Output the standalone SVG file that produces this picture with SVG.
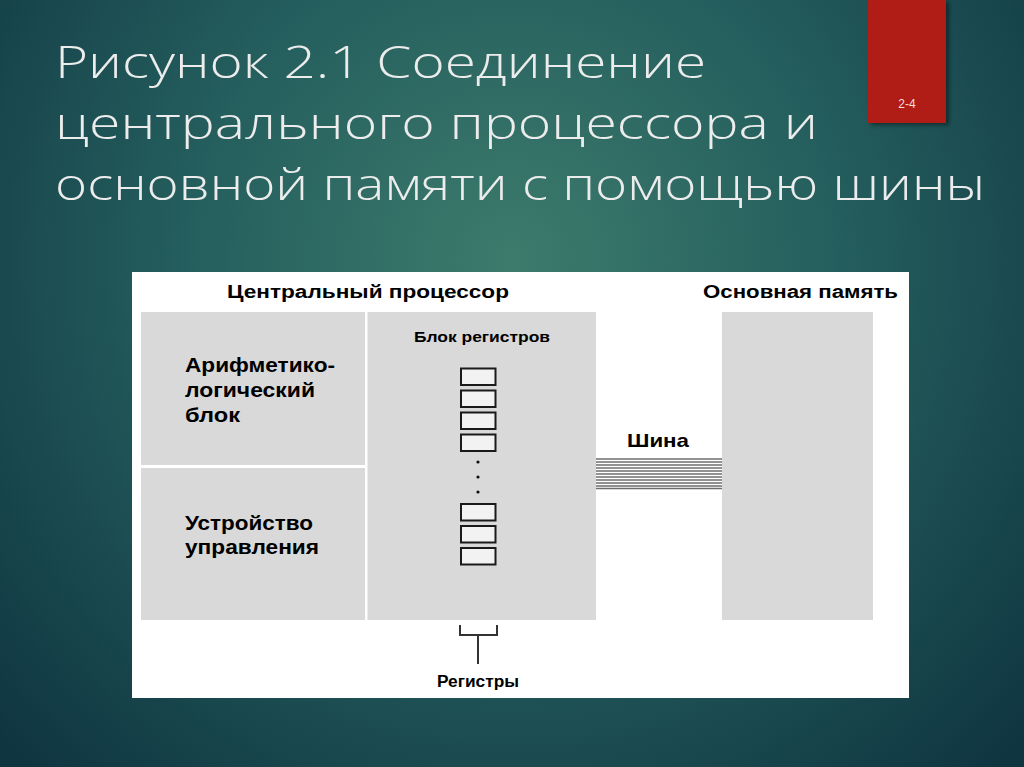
<svg xmlns="http://www.w3.org/2000/svg" width="1024" height="767" viewBox="0 0 1024 767">
<defs>
<radialGradient id="bg" cx="512" cy="260" r="700" gradientUnits="userSpaceOnUse">
<stop offset="0" stop-color="#3d7b6c"/>
<stop offset="0.45" stop-color="#255f5e"/>
<stop offset="1" stop-color="#0f3541"/>
</radialGradient>
<filter id="sh" x="-20%" y="-20%" width="140%" height="140%">
<feDropShadow dx="3" dy="2" stdDeviation="2" flood-color="#000" flood-opacity="0.45"/>
</filter>
</defs>
<style>
.title{font-family:"Open Sans","Liberation Sans",sans-serif;font-size:44px;fill:#ececec;font-weight:300}
.lbl{font-family:"Liberation Sans",Arial,sans-serif;font-weight:bold;fill:#000}
.gray{fill:#d9d9d9}
.reg{fill:#f2f2f2;stroke:#1a1a1a;stroke-width:2}
.bus{stroke:#6e6e6e;stroke-width:1.4}
.brk{fill:none;stroke:#333;stroke-width:2}
</style>
<rect width="1024" height="767" fill="url(#bg)"/>
<g id="tab">
<rect x="868" y="0" width="78" height="123" fill="#b01a17" filter="url(#sh)"/>
<text x="907" y="108" text-anchor="middle" font-family="Liberation Sans,Arial,sans-serif" font-size="12" fill="#f4dede">2-4</text>
</g>
<g id="title">
<text class="title" x="55" y="78" textLength="651" lengthAdjust="spacingAndGlyphs">Рисунок 2.1  Соединение</text>
<text class="title" x="55" y="139" textLength="763" lengthAdjust="spacingAndGlyphs">центрального процессора и</text>
<text class="title" x="55" y="200" textLength="930" lengthAdjust="spacingAndGlyphs">основной памяти с помощью шины</text>
</g>
<g id="panel">
<rect x="132" y="272" width="777" height="426" fill="#ffffff"/>
</g>
<g id="cpu-label">
<text class="lbl" x="227" y="298" font-size="18" textLength="282" lengthAdjust="spacingAndGlyphs">Центральный процессор</text>
</g>
<g id="mem-label">
<text class="lbl" x="703" y="298" font-size="18" textLength="195" lengthAdjust="spacingAndGlyphs">Основная память</text>
</g>
<g id="alu">
<rect class="gray" x="141" y="312" width="224" height="153"/>
<text class="lbl" x="185" y="372" font-size="20" textLength="150" lengthAdjust="spacingAndGlyphs">Арифметико-</text>
<text class="lbl" x="185" y="397" font-size="20" textLength="130" lengthAdjust="spacingAndGlyphs">логический</text>
<text class="lbl" x="185" y="422" font-size="20" textLength="55" lengthAdjust="spacingAndGlyphs">блок</text>
</g>
<g id="cu">
<rect class="gray" x="141" y="468" width="224" height="152"/>
<text class="lbl" x="185" y="530" font-size="20" textLength="128" lengthAdjust="spacingAndGlyphs">Устройство</text>
<text class="lbl" x="185" y="554" font-size="20" textLength="134" lengthAdjust="spacingAndGlyphs">управления</text>
</g>
<g id="register-block">
<rect class="gray" x="367.5" y="312" width="228.5" height="308"/>
<text class="lbl" x="414" y="342" font-size="15" textLength="136" lengthAdjust="spacingAndGlyphs">Блок регистров</text>
<rect class="reg" x="461" y="368.5" width="34.5" height="16.5"/>
<rect class="reg" x="461" y="390.5" width="34.5" height="16.5"/>
<rect class="reg" x="461" y="412.5" width="34.5" height="16.5"/>
<rect class="reg" x="461" y="434.5" width="34.5" height="16.5"/>
<circle cx="478" cy="462" r="1.6" fill="#111"/>
<circle cx="478" cy="477" r="1.6" fill="#111"/>
<circle cx="478" cy="492" r="1.6" fill="#111"/>
<rect class="reg" x="461" y="504" width="34.5" height="16.5"/>
<rect class="reg" x="461" y="526" width="34.5" height="16.5"/>
<rect class="reg" x="461" y="548" width="34.5" height="16.5"/>
</g>
<g id="memory">
<rect class="gray" x="722" y="312" width="151" height="308"/>
</g>
<g id="bus-label">
<text class="lbl" x="627" y="447" font-size="19" textLength="62" lengthAdjust="spacingAndGlyphs">Шина</text>
</g>
<g id="regs-label">
<text class="lbl" x="437" y="687" font-size="16" textLength="82" lengthAdjust="spacingAndGlyphs">Регистры</text>
</g>
<g id="connectors">
<g id="bus">
<line class="bus" x1="596" y1="459" x2="722" y2="459"/>
<line class="bus" x1="596" y1="462" x2="722" y2="462"/>
<line class="bus" x1="596" y1="465" x2="722" y2="465"/>
<line class="bus" x1="596" y1="468" x2="722" y2="468"/>
<line class="bus" x1="596" y1="471" x2="722" y2="471"/>
<line class="bus" x1="596" y1="474" x2="722" y2="474"/>
<line class="bus" x1="596" y1="477" x2="722" y2="477"/>
<line class="bus" x1="596" y1="480" x2="722" y2="480"/>
<line class="bus" x1="596" y1="483" x2="722" y2="483"/>
<line class="bus" x1="596" y1="486" x2="722" y2="486"/>
<line class="bus" x1="596" y1="488.5" x2="722" y2="488.5"/>
</g>
<g id="bracket">
<path class="brk" d="M460 625 V635 H497 V625"/>
<line class="brk" x1="478" y1="635" x2="478" y2="664"/>
</g>
</g>
</svg>
